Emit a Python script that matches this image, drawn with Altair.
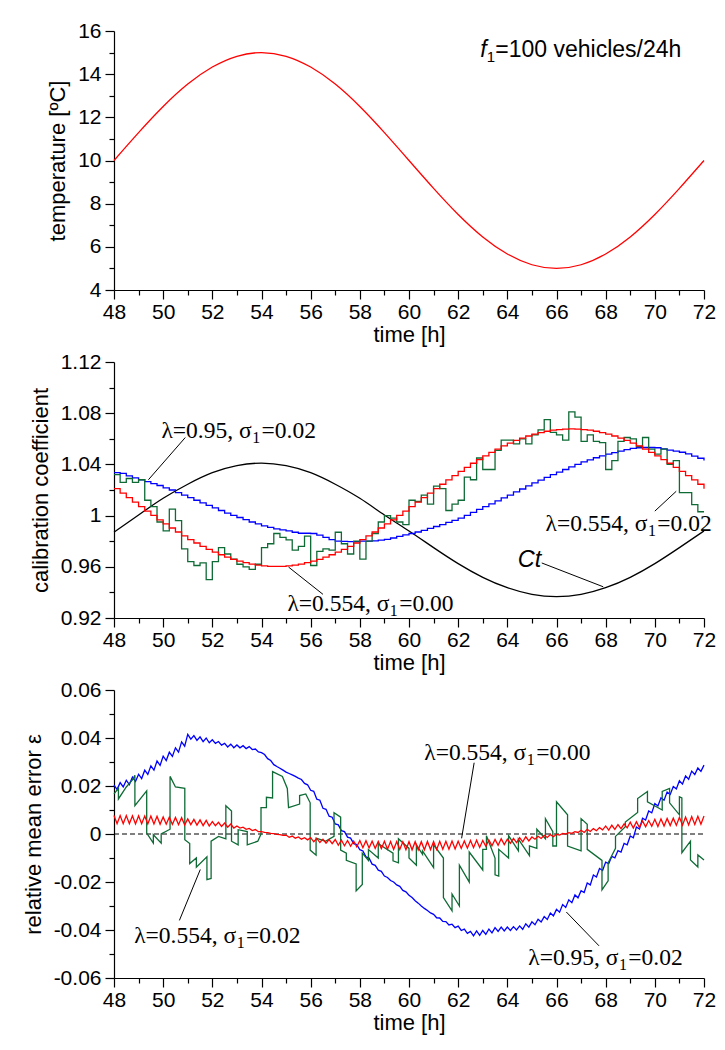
import altair as alt
import pandas as pd

# ---------------- data ----------------
T_START = 48.0
STEP_H = 0.25          # quarter-hour sampling of the stepped series

HOURS = list(range(48, 73))
X_TICKS = list(range(48, 73))
Y1_TICKS = list(range(4, 17))
Y2_TICKS = [0.92, 0.94, 0.96, 0.98, 1, 1.02, 1.04, 1.06, 1.08, 1.1, 1.12]
Y3_TICKS = [-0.06, -0.05, -0.04, -0.03, -0.02, -0.01, 0, 0.01, 0.02, 0.03, 0.04, 0.05, 0.06]

TEMPERATURE = [10.0, 11.29, 12.5, 13.54, 14.33, 14.83, 15.0, 14.83, 14.33, 13.54, 12.5, 11.29,
               10.0, 8.71, 7.5, 6.46, 5.67, 5.17, 5.0, 5.17, 5.67, 6.46, 7.5, 8.71, 10.0]

CT = [0.987, 1.0005, 1.0135, 1.0245, 1.0335, 1.039, 1.041, 1.039, 1.0335, 1.0245, 1.0135, 1.0005,
      0.988, 0.975, 0.9625, 0.9518, 0.9437, 0.9385, 0.9367, 0.9385, 0.9437, 0.9518, 0.9625, 0.975, 0.988]

RED2 = [1.0210, 1.0175, 1.0140, 1.0105, 1.0070, 1.0035, 1.0001, 0.9967, 0.9935, 0.9903, 0.9872, 0.9842,
        0.9813, 0.9786, 0.9760, 0.9736, 0.9714, 0.9694, 0.9675, 0.9658, 0.9644, 0.9632, 0.9621, 0.9613,
        0.9608, 0.9604, 0.9603, 0.9604, 0.9608, 0.9613, 0.9621, 0.9632, 0.9644, 0.9658, 0.9675, 0.9694,
        0.9714, 0.9736, 0.9760, 0.9786, 0.9813, 0.9842, 0.9872, 0.9903, 0.9935, 0.9967, 1.0001, 1.0035,
        1.0070, 1.0105, 1.0140, 1.0175, 1.0210, 1.0245, 1.0279, 1.0313, 1.0345, 1.0377, 1.0409, 1.0438,
        1.0467, 1.0494, 1.0520, 1.0544, 1.0566, 1.0587, 1.0605, 1.0622, 1.0636, 1.0649, 1.0659, 1.0667,
        1.0672, 1.0676, 1.0677, 1.0676, 1.0672, 1.0667, 1.0659, 1.0649, 1.0636, 1.0622, 1.0605, 1.0587,
        1.0566, 1.0544, 1.0520, 1.0494, 1.0467, 1.0438, 1.0409, 1.0377, 1.0345, 1.0313, 1.0279, 1.0245,
        1.0210]

BLUE2 = [1.0335, 1.0330, 1.0310, 1.0295, 1.0280, 1.0265, 1.0250, 1.0235, 1.0217, 1.0200, 1.0180, 1.0160,
         1.0140, 1.0120, 1.0100, 1.0080, 1.0060, 1.0040, 1.0020, 1.0002, 0.9985, 0.9968, 0.9950, 0.9935,
         0.9920, 0.9908, 0.9897, 0.9888, 0.9880, 0.9870, 0.9862, 0.9862, 0.9860, 0.9848, 0.9830, 0.9812,
         0.9800, 0.9798, 0.9797, 0.9797, 0.9800, 0.9800, 0.9803, 0.9808, 0.9815, 0.9825, 0.9838, 0.9850,
         0.9860, 0.9872, 0.9885, 0.9900, 0.9915, 0.9930, 0.9947, 0.9963, 0.9980, 1.0002, 1.0025, 1.0048,
         1.0070, 1.0092, 1.0115, 1.0138, 1.0160, 1.0185, 1.0208, 1.0232, 1.0255, 1.0277, 1.0298, 1.0320,
         1.0340, 1.0360, 1.0380, 1.0400, 1.0420, 1.0436, 1.0452, 1.0467, 1.0480, 1.0492, 1.0504, 1.0515,
         1.0525, 1.0530, 1.0532, 1.0532, 1.0530, 1.0522, 1.0512, 1.0503, 1.0495, 1.0482, 1.0465, 1.0448,
         1.0430]

GREEN2 = [1.032, 1.026, 1.029, 1.026, 1.028, 1.012, 1.007, 0.995, 0.988, 1.005, 0.996, 0.974,
          0.964, 0.961, 0.963, 0.950, 0.964, 0.975, 0.970, 0.966, 0.962, 0.960, 0.958, 0.962,
          0.975, 0.978, 0.986, 0.983, 0.981, 0.973, 0.976, 0.984, 0.961, 0.972, 0.974, 0.973,
          0.987, 0.978, 0.970, 0.980, 0.966, 0.980, 0.986, 0.995, 1.000, 0.998, 0.995, 0.993,
          1.012, 1.011, 1.016, 1.009, 1.023, 1.021, 1.004, 1.009, 1.012, 1.030, 1.028, 1.045,
          1.036, 1.036, 1.051, 1.059, 1.059, 1.056, 1.060, 1.056, 1.063, 1.067, 1.075, 1.065,
          1.063, 1.059, 1.081, 1.077, 1.058, 1.063, 1.058, 1.057, 1.036, 1.043, 1.058, 1.061,
          1.060, 1.054, 1.061, 1.052, 1.048, 1.052, 1.040, 1.043, 1.018, 1.018, 1.0085, 1.003,
          1.003]

RED3_MID = [0.0060, 0.0060, 0.0060, 0.0059, 0.0059, 0.0058, 0.0058, 0.0057, 0.0056, 0.0055, 0.0054, 0.0053,
            0.0051, 0.0049, 0.0047, 0.0045, 0.0043, 0.0040, 0.0037, 0.0033, 0.0029, 0.0024, 0.0019, 0.0014,
            0.0008, 0.0004, 0.0000, -0.0004, -0.0009, -0.0013, -0.0017, -0.0020, -0.0024, -0.0027, -0.0030, -0.0032,
            -0.0035, -0.0037, -0.0039, -0.0041, -0.0042, -0.0043, -0.0045, -0.0046, -0.0047, -0.0048, -0.0048, -0.0049,
            -0.0049, -0.0049, -0.0049, -0.0048, -0.0048, -0.0047, -0.0047, -0.0046, -0.0045, -0.0044, -0.0042, -0.0041,
            -0.0039, -0.0037, -0.0035, -0.0032, -0.0030, -0.0027, -0.0024, -0.0020, -0.0017, -0.0014, -0.0010, -0.0007,
            -0.0003, 0.0001, 0.0004, 0.0008, 0.0011, 0.0015, 0.0018, 0.0022, 0.0025, 0.0028, 0.0031, 0.0034,
            0.0037, 0.0039, 0.0042, 0.0044, 0.0046, 0.0048, 0.0050, 0.0051, 0.0053, 0.0054, 0.0056, 0.0057,
            0.0058]
RED3_SWING = [0.0034, 0.0033, 0.0030, 0.0024, 0.0017, 0.0009, 0.0003, 0.0009, 0.0017, 0.0024, 0.0030, 0.0033,
              0.0034, 0.0033, 0.0030, 0.0024, 0.0017, 0.0009, 0.0003, 0.0009, 0.0017, 0.0024, 0.0030, 0.0033,
              0.0034]

BLUE3_MID = [0.0195, 0.0205, 0.0215, 0.0228, 0.0240, 0.0257, 0.0275, 0.0295, 0.0315, 0.0332, 0.0350, 0.0375,
             0.0405, 0.0400, 0.0395, 0.0390, 0.0385, 0.0378, 0.0370, 0.0367, 0.0365, 0.0362, 0.0358, 0.0348,
             0.0335, 0.0310, 0.0285, 0.0270, 0.0255, 0.0243, 0.0230, 0.0208, 0.0180, 0.0143, 0.0105, 0.0072,
             0.0040, 0.0012, -0.0015, -0.0042, -0.0068, -0.0098, -0.0128, -0.0153, -0.0178, -0.0197, -0.0215, -0.0238,
             -0.0260, -0.0283, -0.0305, -0.0324, -0.0342, -0.0357, -0.0372, -0.0383, -0.0393, -0.0405, -0.0415, -0.0413,
             -0.0410, -0.0404, -0.0398, -0.0396, -0.0395, -0.0393, -0.0390, -0.0381, -0.0372, -0.0361, -0.0350, -0.0335,
             -0.0320, -0.0300, -0.0280, -0.0260, -0.0240, -0.0208, -0.0175, -0.0148, -0.0120, -0.0096, -0.0072, -0.0042,
             -0.0012, 0.0025, 0.0062, 0.0092, 0.0122, 0.0146, 0.0170, 0.0193, 0.0215, 0.0235, 0.0255, 0.0268,
             0.0280]
BLUE3_SWING = [0.0018, 0.0018, 0.0018, 0.0020, 0.0015, 0.0012, 0.0008, 0.0006, 0.0004, 0.0004, 0.0005, 0.0006,
               0.0010, 0.0014, 0.0018, 0.0016, 0.0014, 0.0012, 0.0012, 0.0008, 0.0006, 0.0008, 0.0010, 0.0014,
               0.0014]

GREEN3_POINTS = [
    (48.00, 0.0167), (48.18, 0.0190), (48.18, 0.0146), (48.50, 0.0196), (48.75, 0.0225), (48.85, 0.0245),
    (48.85, 0.0118), (49.33, 0.0180), (49.33, 0.0004), (49.60, -0.0038), (49.60, -0.0003), (49.92, -0.0038),
    (49.92, 0.0000), (50.28, 0.0020), (50.28, 0.0240), (50.50, 0.0196), (50.88, 0.0190), (50.88, -0.0024),
    (51.08, -0.0040), (51.08, -0.0123), (51.35, -0.0100), (51.35, -0.0138), (51.78, -0.0095), (51.78, -0.0190),
    (51.95, -0.0185), (51.95, -0.0030), (52.25, -0.0010), (52.55, -0.0020), (52.55, 0.0118), (52.78, 0.0096),
    (52.78, -0.0030), (53.05, -0.0045), (53.05, 0.0018), (53.42, 0.0010), (53.42, -0.0045), (53.85, -0.0030),
    (53.98, 0.0000), (53.98, 0.0110), (54.20, 0.0110), (54.20, 0.0153), (54.45, 0.0150), (54.45, 0.0260),
    (54.85, 0.0240), (55.05, 0.0190), (55.10, 0.0110), (55.55, 0.0125), (55.55, 0.0160), (55.80, 0.0167),
    (55.98, 0.0130), (55.98, -0.0067), (56.22, -0.0088), (56.22, -0.0017), (56.60, -0.0030), (56.95, -0.0010),
    (56.95, 0.0089), (57.22, 0.0070), (57.22, -0.0067), (57.45, -0.0080), (57.45, -0.0110), (57.85, -0.0125),
    (57.85, -0.0237), (58.10, -0.0210), (58.10, -0.0080), (58.35, -0.0110), (58.35, -0.0065), (58.75, -0.0100),
    (58.75, -0.0040), (59.35, -0.0080), (59.35, -0.0112), (59.57, -0.0120), (59.57, -0.0020), (60.00, -0.0060),
    (60.00, -0.0100), (60.30, -0.0130), (60.30, -0.0045), (60.55, -0.0085), (60.55, -0.0070), (61.00, -0.0140),
    (61.00, -0.0045), (61.40, -0.0100), (61.40, -0.0265), (61.75, -0.0320), (61.75, -0.0250), (62.05, -0.0300),
    (62.05, -0.0130), (62.45, -0.0200), (62.45, -0.0075), (63.00, -0.0150), (63.00, -0.0064), (63.15, -0.0064),
    (63.15, -0.0007), (63.50, -0.0100), (63.50, -0.0170), (63.65, -0.0175), (63.65, -0.0064), (64.05, -0.0100),
    (64.05, -0.0007), (64.45, -0.0070), (64.45, -0.0021), (64.90, -0.0090), (64.90, -0.0050), (65.20, -0.0060),
    (65.20, 0.0020), (65.55, -0.0020), (65.55, 0.0064), (65.85, 0.0010), (65.85, -0.0050), (66.00, -0.0050),
    (66.00, 0.0134), (66.45, 0.0080), (66.45, -0.0050), (67.00, -0.0070), (67.00, 0.0064), (67.25, 0.0040),
    (67.25, -0.0064), (67.85, -0.0110), (67.85, -0.0233), (68.10, -0.0195), (68.10, -0.0120), (68.40, -0.0060),
    (68.40, -0.0010), (68.80, 0.0030), (68.80, 0.0050), (69.30, 0.0090), (69.30, 0.0148), (69.70, 0.0177),
    (69.70, 0.0134), (70.30, 0.0100), (70.30, 0.0177), (70.60, 0.0190), (70.60, 0.0130), (71.00, 0.0080),
    (71.00, 0.0155), (71.10, 0.0150), (71.10, -0.0078), (71.45, -0.0030), (71.45, -0.0108), (71.75, -0.0137),
    (71.75, -0.0087), (72.00, -0.0108),
]

# annotation texts: anchor (t, v) is the end of the "σ"; subscript and tail follow it
LAB2 = [
    {"t": 53.6, "v": 1.066, "left": "λ=0.95, σ", "sub": "1", "right": "=0.02"},
    {"t": 59.2, "v": 0.931, "left": "λ=0.554, σ", "sub": "1", "right": "=0.00"},
    {"t": 69.7, "v": 0.9934, "left": "λ=0.554, σ", "sub": "1", "right": "=0.02"},
]
LEAD2 = [
    {"t1": 50.9, "v1": 1.061, "t2": 49.4, "v2": 1.028},
    {"t1": 55.1, "v1": 0.9598, "t2": 56.5, "v2": 0.9385},
    {"t1": 70.0, "v1": 1.0035, "t2": 70.87, "v2": 1.019},
    {"t1": 65.4, "v1": 0.963, "t2": 67.9, "v2": 0.9444},
]
CT_LABEL = [{"t": 64.9, "v": 0.9657, "txt": "Ct"}]

LAB3 = [
    {"t": 64.77, "v": 0.0339, "left": "λ=0.554, σ", "sub": "1", "right": "=0.00"},
    {"t": 52.97, "v": -0.0424, "left": "λ=0.554, σ", "sub": "1", "right": "=0.02"},
    {"t": 68.52, "v": -0.0516, "left": "λ=0.95, σ", "sub": "1", "right": "=0.02"},
]
LEAD3 = [
    {"t1": 62.65, "v1": 0.0297, "t2": 62.14, "v2": -0.0018},
    {"t1": 50.66, "v1": -0.036, "t2": 51.51, "v2": -0.0148},
    {"t1": 66.4, "v1": -0.0325, "t2": 67.73, "v2": -0.0466},
]
ZERO_LINE = [{"t1": 48, "t2": 72, "v": 0}]

LAB1 = [{"t": 62.9, "v": 15.1, "f": "f", "sub": "1", "right": "=100 vehicles/24h"}]

# ---------------- styling ----------------
SANS = "Liberation Sans"
SERIF = "Liberation Serif"
RED = "#ff0000"
BLUE = "#0000ff"
GREEN = "#0f6b36"
LW = 1.3
W = 590
H1, H2, H3 = 259, 256, 288
LABEL_FS = 21
TITLE_FS = 22
ANN_FS = 23.5
F_FS = 23


def hour_series(values):
    return pd.DataFrame({"t": HOURS[:len(values)], "v": values})


def quarter_series(values):
    return pd.DataFrame({"t": [T_START + STEP_H * i for i in range(len(values))], "v": values})


def zigzag(mid, swing):
    rows = []
    for i, c in enumerate(mid):
        t = T_START + STEP_H * i
        s = swing[min(int(t) - 48, len(swing) - 1)]
        rows.append({"t": t, "v": c + s / 2})
        if i < len(mid) - 1:
            rows.append({"t": t + STEP_H / 2, "v": c - s / 2})
    df = pd.DataFrame(rows)
    df["idx"] = range(len(df))
    return df


def tick_size(test):
    return {"condition": {"test": test, "value": 9}, "value": 5}


X_AXIS = alt.Axis(values=X_TICKS, title="time [h]",
                  labelExpr="datum.value % 2 === 0 ? '' + datum.value : ''",
                  tickSize=tick_size("datum.value % 2 === 0"), labelPadding=2, titlePadding=2)


def xenc(field="t"):
    return alt.X(f"{field}:Q", scale=alt.Scale(domain=[48, 72], nice=False, zero=False), axis=X_AXIS)


def make_yenc(domain, ticks, title, test):
    ax = alt.Axis(values=ticks, title=title,
                  labelExpr=f"({test}) ? '' + datum.value : ''",
                  tickSize=tick_size(test), labelPadding=4, titlePadding=8)

    def yenc(field="v"):
        return alt.Y(f"{field}:Q", scale=alt.Scale(domain=domain, nice=False, zero=False), axis=ax)
    return yenc


y1 = make_yenc([4, 16], Y1_TICKS, "temperature [ºC]", "datum.value % 2 === 0")
y2 = make_yenc([0.92, 1.12], Y2_TICKS, "calibration coefficient", "round(datum.value * 100) % 4 === 0")
y3 = make_yenc([-0.06, 0.06], Y3_TICKS, "relative mean error ε", "round(datum.value * 100) % 2 === 0")


def line(df, color, yenc, interpolate="linear", ordered=False):
    enc = dict(x=xenc(), y=yenc())
    if ordered:
        enc["order"] = alt.Order("idx:Q")
    return alt.Chart(df).mark_line(color=color, strokeWidth=LW, interpolate=interpolate).encode(**enc)


def leaders(rows, yenc):
    return alt.Chart(pd.DataFrame(rows)).mark_rule(color="black", strokeWidth=1).encode(
        x=xenc("t1"), y=yenc("v1"), x2="t2:Q", y2="v2:Q")


def lam_labels(rows, yenc):
    base = alt.Chart(pd.DataFrame(rows)).encode(x=xenc(), y=yenc())
    left = base.mark_text(align="right", baseline="middle", font=SERIF, fontSize=ANN_FS,
                          color="black").encode(text="left:N")
    sub = base.mark_text(align="left", baseline="middle", font=SERIF, fontSize=ANN_FS * 0.68,
                         dx=0.5, dy=ANN_FS * 0.3, color="black").encode(text="sub:N")
    right = base.mark_text(align="left", baseline="middle", font=SERIF, fontSize=ANN_FS,
                           dx=ANN_FS * 0.42, color="black").encode(text="right:N")
    return left + sub + right


# ---------------- panel 1 ----------------
p1_line = line(hour_series(TEMPERATURE), RED, y1, interpolate="natural")
lab1 = alt.Chart(pd.DataFrame(LAB1)).encode(x=xenc(), y=y1())
f_txt = lab1.mark_text(align="left", baseline="middle", font=SANS, fontSize=F_FS, fontStyle="italic",
                       color="black").encode(text="f:N")
f_sub = lab1.mark_text(align="left", baseline="middle", font=SANS, fontSize=15, dx=6.5, dy=7,
                       color="black").encode(text="sub:N")
f_rest = lab1.mark_text(align="left", baseline="middle", font=SANS, fontSize=F_FS, dx=15,
                        color="black").encode(text="right:N")
panel1 = alt.layer(p1_line, f_txt, f_sub, f_rest).properties(width=W, height=H1)

# ---------------- panel 2 ----------------
ct_line = line(hour_series(CT), "black", y2, interpolate="natural")
blue2 = line(quarter_series(BLUE2), BLUE, y2, interpolate="step-after")
green2 = line(quarter_series(GREEN2), GREEN, y2, interpolate="step-after")
red2 = line(quarter_series(RED2), RED, y2, interpolate="step-after")
ct_txt = alt.Chart(pd.DataFrame(CT_LABEL)).mark_text(
    align="center", baseline="middle", font=SANS, fontSize=ANN_FS, fontStyle="italic", color="black"
).encode(x=xenc(), y=y2(), text="txt:N")
panel2 = alt.layer(ct_line, blue2, green2, red2, leaders(LEAD2, y2), lam_labels(LAB2, y2), ct_txt
                   ).properties(width=W, height=H2)

# ---------------- panel 3 ----------------
zero = alt.Chart(pd.DataFrame(ZERO_LINE)).mark_rule(color="black", strokeWidth=1, strokeDash=[5, 3]).encode(
    x=xenc("t1"), x2="t2:Q", y=y3())
g3 = pd.DataFrame(GREEN3_POINTS, columns=["t", "v"])
g3["idx"] = range(len(g3))
blue3 = line(zigzag(BLUE3_MID, BLUE3_SWING), BLUE, y3, ordered=True)
green3 = line(g3, GREEN, y3, ordered=True)
red3 = line(zigzag(RED3_MID, RED3_SWING), RED, y3, ordered=True)
panel3 = alt.layer(zero, blue3, green3, red3, leaders(LEAD3, y3), lam_labels(LAB3, y3)
                   ).properties(width=W, height=H3)

chart = alt.vconcat(panel1, panel2, panel3, spacing=72, bounds="flush").properties(
    padding={"left": 14, "top": 12, "right": 0, "bottom": 4},
    background="white",
).configure_view(stroke=None).configure_axis(
    grid=False, domainColor="black", domainWidth=1.2, tickColor="black", tickWidth=1.2,
    labelColor="black", titleColor="black", labelFont=SANS, titleFont=SANS,
    labelFontSize=LABEL_FS, titleFontSize=TITLE_FS, titleFontWeight="normal",
    labelFlush=False, labelOverlap=False
)

chart.save("out.html", embed_options={"renderer": "svg", "actions": False})
